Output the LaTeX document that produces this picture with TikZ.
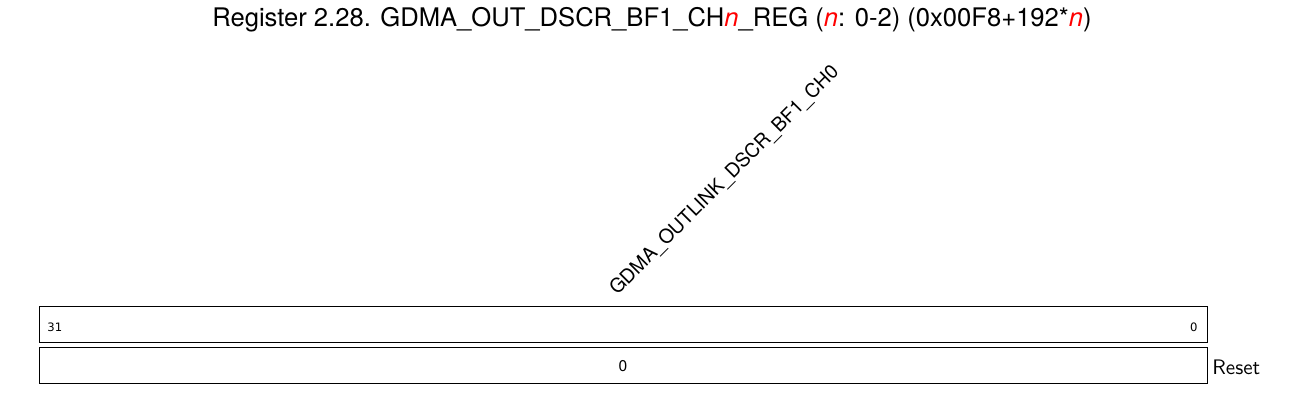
\documentclass[tikz,border=0pt]{standalone}
\usepackage{fontspec}
\setmainfont{TeX Gyre Heros}
\newfontfamily\bitfont{DejaVu Sans}
\usetikzlibrary{positioning}
\tikzset
{
    regbox/.style   = {rectangle, draw=black, line width=0.5pt, minimum width=584pt, minimum height=18pt, inner sep=0pt},
    bitnum/.style   = {inner sep=0pt, font=\bitfont\fontsize{5.8pt}{7pt}\selectfont},
    fieldname/.style= {inner sep=0pt, rotate=45, anchor=base west, font=\fontsize{9.7pt}{11pt}\selectfont},
    resetval/.style = {inner sep=0pt, anchor=base, font=\fontsize{7.8pt}{9pt}\selectfont},
    title/.style    = {inner sep=0pt, anchor=base, font=\fontsize{12.8pt}{15pt}\selectfont}
}
\newcommand\regn{\textcolor{red}{\textit{n}}}

\begin{document}
\begin{tikzpicture}[x=0.5pt, y=-0.5pt]
   \useasboundingbox (0,0) rectangle (1301,408);

   \node (ttl) [title] at (652, 26) {Register 2.28. GDMA\_OUT\_DSCR\_BF1\_CH\regn\_REG (\regn: 0-2) (0x00F8+192*\regn)};

   \node (bits)  [regbox] at (623, 324) {};
   \node (reset) [regbox] at (623, 365) {};

   \node (fld) [fieldname] at (617, 296) {GDMA\_OUTLINK\_DSCR\_BF1\_CH0};

   \node (hi) [bitnum, anchor=base west] at (47, 331)   {31};
   \node (lo) [bitnum, anchor=base east] at (1198, 331) {0};

   \node (val) [resetval] at (623, 371) {0};
   \node (rst) [inner sep=0pt, anchor=base west, font=\sffamily\fontsize{10.5pt}{12pt}\selectfont] at (1212, 374) {Reset};
\end{tikzpicture}
\end{document}
